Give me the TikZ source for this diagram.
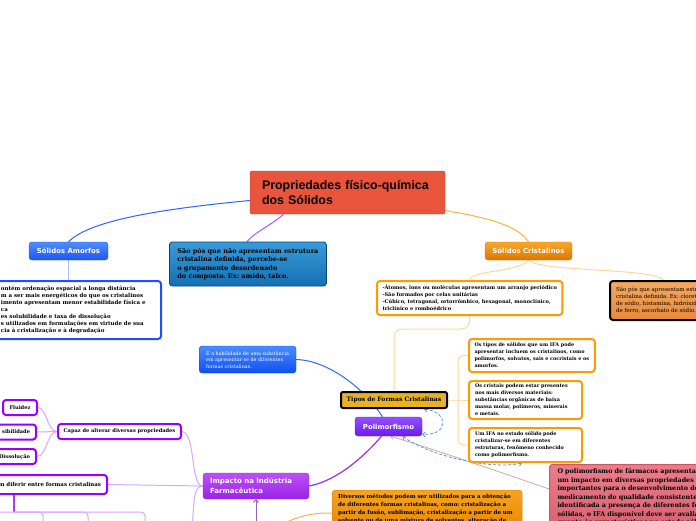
\documentclass[tikz,border=0pt]{standalone}
\usepackage{fontspec}
\setmainfont{DejaVu Serif}
\newfontfamily\titlefont{Liberation Sans}
\newfontfamily\topicfont{DejaVu Sans}
\usetikzlibrary{arrows.meta, backgrounds}

\definecolor{redfill}{HTML}{E8543C}
\definecolor{redborder}{HTML}{D9432C}
\definecolor{amorfTop}{HTML}{4F8DFF}
\definecolor{amorfBot}{HTML}{1F56F2}
\definecolor{amorfLine}{HTML}{2F62FF}
\definecolor{amorfBorder}{HTML}{1F4FFF}
\definecolor{amorfLight}{HTML}{A9C3FF}
\definecolor{saoTop}{HTML}{3A9BD9}
\definecolor{saoBot}{HTML}{1370B3}
\definecolor{saoBorder}{HTML}{0B4475}
\definecolor{crisTop}{HTML}{F7A72C}
\definecolor{crisBot}{HTML}{DD7700}
\definecolor{crisLine}{HTML}{FFB23F}
\definecolor{crisLight}{HTML}{FFD79C}
\definecolor{leafOrange}{HTML}{FF9A00}
\definecolor{exTop}{HTML}{F4AA62}
\definecolor{exBot}{HTML}{E8893A}
\definecolor{tiposFill}{HTML}{E8B224}
\definecolor{poliTop}{HTML}{9350FF}
\definecolor{poliBot}{HTML}{6A1AF2}
\definecolor{poliLine}{HTML}{9B2FF0}
\definecolor{habTop}{HTML}{4A8CFF}
\definecolor{habBot}{HTML}{0F4FF0}
\definecolor{habLine}{HTML}{3169F0}
\definecolor{pinkTop}{HTML}{EC7D8C}
\definecolor{pinkBot}{HTML}{D9606F}
\definecolor{pinkBorder}{HTML}{C85A68}
\definecolor{pinkLine}{HTML}{D9A5A5}
\definecolor{impTop}{HTML}{BB50F7}
\definecolor{impBot}{HTML}{9A24E6}
\definecolor{metTop}{HTML}{F7A323}
\definecolor{metBot}{HTML}{E98A05}
\definecolor{metBorder}{HTML}{D98000}
\definecolor{leafPurple}{HTML}{9A00FF}
\definecolor{purpLight}{HTML}{D7A8FF}
\definecolor{purpMid}{HTML}{A43BF5}
\definecolor{impArrow}{HTML}{9465B5}
\definecolor{dashBlue}{HTML}{4B9BE6}

\begin{document}
\frenchspacing
\begin{tikzpicture}[x=1pt, y=-1pt]
  \tikzstyle{topic} = [rounded corners=3pt, inner sep=0pt, text=white, font=\topicfont\bfseries\fontsize{6.9}{8}\selectfont];
  \tikzstyle{note} = [rounded corners=3pt, align=left, anchor=west, inner ysep=0pt, font=\bfseries\fontsize{5}{7}\selectfont];
  \tikzstyle{leaf} = [note, draw=leafOrange, line width=2pt, fill=white, inner xsep=5.5pt];
  \tikzstyle{pleaf} = [note, draw=leafPurple, line width=2pt, fill=white, inner xsep=6pt, minimum height=15pt];
  \tikzstyle{link} = [line width=1pt];
  \tikzstyle{relation} = [dashBlue, line width=0.8pt, dash pattern=on 3pt off 2pt, {Straight Barb[length=2.5pt,width=5pt]}-{Straight Barb[length=2.5pt,width=5pt]}];

  \useasboundingbox (0,0) rectangle (696,520);
  \clip (0,0) rectangle (696,520);

  % central topic
  \node (central) [rounded corners=2pt, draw=redborder, fill=redfill, minimum height=43pt, text width=171pt, inner xsep=12pt, align=left, font=\titlefont\bfseries\fontsize{12.4}{15}\selectfont] at (347.5,192.5) {Propriedades físico-química\\dos Sólidos};

  % amorfos
  \node (amorfos) [topic, top color=amorfTop, bottom color=amorfBot, draw=amorfBot, minimum width=79pt, minimum height=18pt] at (68.5,251) {Sólidos Amorfos};
  \node (amdesc) [note, draw=amorfBorder, line width=2pt, fill=white, minimum height=58pt, text width=154pt, inner xsep=6pt, font=\bfseries\fontsize{5.5}{6.9}\selectfont] at (-6,310) {ontém ordenação espacial a longa distância\\m a ser mais energéticos do que os cristalinos\\imento apresentam menor estabilidade física e\\ca\\es solubilidade e taxa de dissolução\\s utilizados em formulações em virtude de sua\\cia à cristalização e à degradação};
  \node (saopos) [note, draw=saoBorder, line width=0.8pt, top color=saoTop, bottom color=saoBot, minimum height=44pt, inner xsep=8pt, font=\bfseries\fontsize{6.5}{8.4}\selectfont] at (169,264) {São pós que não apresentam estrutura\\cristalina definida, percebe-se\\o grupamento desordenado\\do composto. Ex: amido, talco.};

  % cristalinos
  \node (cristalinos) [topic, top color=crisTop, bottom color=crisBot, draw=crisBot, minimum width=87pt, minimum height=18pt] at (528.5,251) {Sólidos Cristalinos};
  \node (crdesc) [leaf, minimum height=34pt, inner xsep=5.5pt, font=\bfseries\fontsize{5.05}{7}\selectfont] at (376,298) {-Átomos, ions ou moléculas apresentam um arranjo periódico\\-São formados por celas unitárias\\-Cúbico, tetragonal, ortorrômbico, hexagonal, monoclínico,\\triclínico e romboédrico};
  \node (crex) [note, draw=black, line width=2pt, top color=exTop, bottom color=exBot, minimum height=39pt, inner xsep=6pt, font=\fontsize{5.5}{7}\selectfont] at (609,300.5) {São pós que apresentam estrutura\\cristalina definida. Ex: cloreto\\de sódio, histamina, hidróxido\\de ferro, ascorbato de sódio.};

  \node (tipos) [note, anchor=center, rounded corners=2pt, draw=black, line width=2pt, fill=tiposFill, minimum width=106pt, minimum height=16pt, inner xsep=0pt, align=center, font=\bfseries\fontsize{6.05}{7}\selectfont] at (394,400) {Tipos de Formas Cristalinas};
  \node (tipoA) [leaf, minimum height=33pt, font=\bfseries\fontsize{4.9}{7}\selectfont] at (468,355.5) {Os tipos de sólidos que um IFA pode\\apresentar incluem os cristalinos, como\\polimorfos, solvatos, sais e cocristais e os\\amorfos.};
  \node (tipoB) [leaf, minimum height=38pt, text width=101pt, inner xsep=6pt, font=\bfseries\fontsize{4.9}{7}\selectfont] at (468,400) {Os cristais podem estar presentes\\nos mais diversos materiais:\\substâncias orgânicas de baixa\\massa molar, polímeros, minerais\\e metais.};
  \node (tipoC) [leaf, minimum height=34pt, text width=101pt, inner xsep=6pt, font=\bfseries\fontsize{4.9}{7}\selectfont] at (468,445) {Um IFA no estado sólido pode\\cristalizar-se em diferentes\\estruturas, fenômeno conhecido\\como polimorfismo.};

  % polimorfismo
  \node (poli) [topic, top color=poliTop, bottom color=poliBot, draw=poliBot, minimum width=67pt, minimum height=19pt] at (388.5,426.5) {Polimorfismo};
  \node (habil) [note, top color=habTop, bottom color=habBot, draw=habBot, text=white, minimum height=27pt, inner xsep=7pt, font=\fontsize{4.85}{6.5}\selectfont] at (199,359.5) {É a habilidade de uma substância\\em apresentar-se de diferentes\\formas cristalinas.};
  \node (polimp) [note, anchor=north west, top color=pinkTop, bottom color=pinkBot, draw=pinkBorder, line width=1pt, text width=200pt, inner xsep=8pt, inner ysep=4pt, font=\bfseries\fontsize{6.4}{8.5}\selectfont] at (549,464) {O polimorfismo de fármacos apresenta\\um impacto em diversas propriedades\\importantes para o desenvolvimento de\\medicamento de qualidade consistente\\identificada a presença de diferentes formas\\sólidas, o IFA disponível deve ser avaliado\\quanto às características no estado sólido};

  % impacto
  \node (impacto) [topic, top color=impTop, bottom color=impBot, draw=impBot, align=left, text width=92pt, inner xsep=7pt, minimum height=26pt, font=\topicfont\bfseries\fontsize{7}{10}\selectfont] at (256,486) {Impacto na Indústria\\Farmacêutica};
  \node (metodos) [note, anchor=north west, top color=metTop, bottom color=metBot, draw=metBorder, text width=178pt, inner xsep=6pt, inner ysep=3.5pt, font=\bfseries\fontsize{5.55}{8}\selectfont] at (332,490) {Diversos métodos podem ser utilizados para a obtenção\\de diferentes formas cristalinas, como: cristalização a\\partir da fusão, sublimação, cristalização a partir de um\\solvente ou de uma mistura de solventes, alteração de};
  \node (capaz) [pleaf, anchor=center, minimum width=123pt, inner xsep=0pt, align=center, font=\bfseries\fontsize{5.1}{6}\selectfont] at (119.5,431.5) {Capaz de alterar diversas propriedades};
  \node (fluidez) [pleaf, anchor=center, minimum width=34pt, inner xsep=0pt, align=center, font=\bfseries\fontsize{5.1}{6}\selectfont] at (20,407.5) {Fluidez};
  \node (sibil) [pleaf, anchor=east, text width=40pt, align=right, font=\bfseries\fontsize{5.1}{6}\selectfont] at (37,432) {sibilidade};
  \node (dissol) [pleaf, anchor=east, text width=40pt, align=right, font=\bfseries\fontsize{5.1}{6}\selectfont] at (37,456.5) {Dissolução};
  \node (mdif) [pleaf, anchor=east, minimum height=19pt, text width=126pt, align=right, font=\bfseries\fontsize{5.45}{6}\selectfont] at (108,484.5) {m diferir entre formas cristalinas};

  \coordinate (tipfork) at (458,400);
  \coordinate (mdfork) at (14,512);
  \coordinate (mdc0) at (-8,535);
  \coordinate (mdc1) at (43,535);
  \coordinate (mdc2) at (88,535);
  \coordinate (mdc3) at (145,535);
  \coordinate (impleft) at (190,535);
  \coordinate (impbelow) at (256,535);
  \coordinate (metsrc) at (275,528);

  \begin{pgfonlayer}{background}
    \fill[white] (0,0) rectangle (696,520);

    \draw[link, amorfLine] ([yshift=-8pt]central.west) .. controls (150,210) and (88,222) .. (amorfos.north);
    \draw[link, poliLine!80] ([xshift=-64pt]central.south) .. controls (272,225) and (256,231) .. ([xshift=78pt]saopos.north west);
    \draw[link, crisLine] ([yshift=-18pt]central.east) .. controls (490,218) and (518,226) .. (cristalinos.north);
    \draw[amorfLight, line width=1.5pt] (amorfos.south) -- (amorfos.south |- amdesc.north);

    \draw[link, crisLight] (cristalinos.south) .. controls (520,272) and (472,270) .. ([xshift=93.5pt]crdesc.north west);
    \draw[link, crisLight] (cristalinos.south) .. controls (540,272) and (655,268) .. ([xshift=54pt]crex.north west);
    \draw[link, crisLight, rounded corners=8pt] ([xshift=93.5pt]crdesc.south west) -- ++(0,13) -| (tipos.north);
    \draw[link, crisLight] (tipos.east) -- (tipfork) -- (tipoB.west);
    \draw[link, crisLight, rounded corners=6pt] (tipfork) |- (tipoA.west);
    \draw[link, crisLight, rounded corners=6pt] (tipfork) |- (tipoC.west);

    \draw[link, habLine] (habil.east) .. controls (325,360) and (362,385) .. ([xshift=-6pt]poli.north);
    \draw[link, poliLine, line width=1.2pt] ([xshift=-7pt]poli.south) .. controls (368,452) and (340,480) .. (impacto.east);
    \draw[pinkLine, line width=0.8pt, -{Straight Barb[length=2.5pt,width=5pt]}] ([yshift=-25pt]polimp.north west) .. controls (500,472) and (430,448) .. ([xshift=2pt]poli.south);
    \draw[relation] ([xshift=30pt]tipos.south) .. controls (450,412) and (448,436) .. ([yshift=2pt]poli.south east);
    \draw[relation] ([xshift=14pt]poli.south) .. controls (430,456) and (490,470) .. ([xshift=54pt]tipoC.south west);

    \draw[link, purpLight] (impacto.west) .. controls (190,486) and (196,433) .. (capaz.east);
    \draw[link, purpLight] (impacto.west) -- (mdif.east);
    \draw[link, purpLight] (impacto.west) .. controls (190,486) and (196,515) .. (impleft);
    \draw[link, purpLight] (capaz.west) .. controls (47,431.5) and (47,408) .. (fluidez.east);
    \draw[link, purpLight] (capaz.west) -- (sibil.east);
    \draw[link, purpLight] (capaz.west) .. controls (47,431.5) and (47,456) .. (dissol.east);

    \draw[link, purpMid, line width=1.2pt] (mdif.south -| mdfork) -- (mdfork);
    \draw[link, purpLight, rounded corners=4pt] (mdfork) -| (mdc0);
    \draw[link, purpLight, rounded corners=4pt] (mdfork) -| (mdc1);
    \draw[link, purpLight, rounded corners=4pt] (mdfork) -| (mdc2);
    \draw[link, purpLight, rounded corners=4pt] (mdfork) -| (mdc3);

    \draw[link, impArrow, -{Straight Barb[length=2.5pt,width=5pt]}] (impbelow) -- (impacto.south);
    \draw[link, crisLine] (metsrc) .. controls (300,514) and (315,513) .. ([yshift=-23pt]metodos.north west);
  \end{pgfonlayer}
\end{tikzpicture}
\end{document}
